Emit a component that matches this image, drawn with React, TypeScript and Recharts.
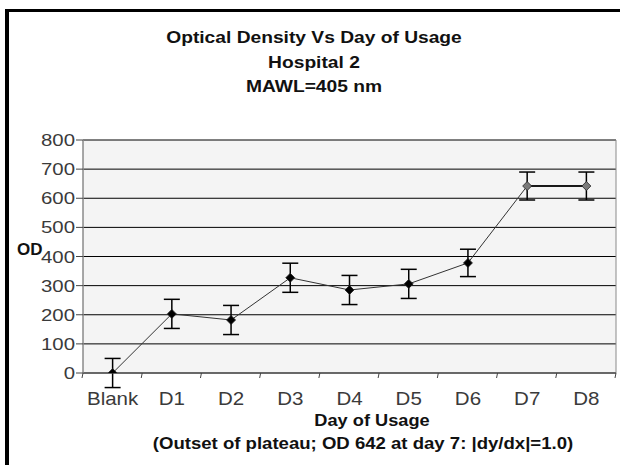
import React from "react";
import { LineChart, Line, XAxis, YAxis, CartesianGrid, ErrorBar } from "recharts";

const days = ["Blank", "D1", "D2", "D3", "D4", "D5", "D6", "D7", "D8"];
const odValues = [0, 203, 182, 327, 285, 306, 378, 642, 642];
const odErrors = [50, 50, 50, 50, 50, 50, 47, 48, 48];
const yTicks = [0, 100, 200, 300, 400, 500, 600, 700, 800];
const plateauFrom = "D7";

const titleLines = ["Optical Density Vs Day of Usage", "Hospital 2", "MAWL=405 nm"];
const xTitle = "Day of Usage";
const xNote = "(Outset of plateau; OD 642 at day 7: |dy/dx|=1.0)";

const plateauIdx = days.indexOf(plateauFrom);

const data = days.map((day, i) => ({
  day,
  od: odValues[i],
  err: odErrors[i],
  plateau: i >= plateauIdx ? odValues[i] : null,
}));

const font = "'Liberation Sans', Arial, sans-serif";

// diamond marker, grey once the plateau starts
function Diamond(props: any) {
  const { cx, cy, index } = props;
  if (cx == null || cy == null) return null;
  const r = 4.5;
  const fill = index >= plateauIdx ? "#7a7a7a" : "#000";
  return (
    <path
      key={`d-${index}`}
      d={`M${cx},${cy - r}L${cx + r},${cy}L${cx},${cy + r}L${cx - r},${cy}Z`}
      fill={fill}
      stroke="#222"
      strokeWidth={0.8}
    />
  );
}

// category label in the band, tick marks on the band edges (Excel style)
function DayTick(props: any) {
  const { x, y, payload, index } = props;
  const half = payload.offset || 29.6;
  const last = index === days.length - 1;
  return (
    <g>
      <line x1={x - half} y1={y - 8} x2={x - half - 1} y2={y - 3} stroke="#444" />
      {last && <line x1={x + half} y1={y - 8} x2={x + half - 1} y2={y - 3} stroke="#444" />}
      <text
        transform={`translate(${x},${y + 24}) scale(1.14,1)`}
        textAnchor="middle"
        fill="#3a3a3a"
        fontSize={18}
        fontFamily={font}
      >
        {payload.value}
      </text>
    </g>
  );
}

function OdTick(props: any) {
  const { x, y, payload } = props;
  return (
    <text
      transform={`translate(${x},${y + 6}) scale(1.2,1)`}
      textAnchor="end"
      fill="#3a3a3a"
      fontSize={17}
      fontFamily={font}
    >
      {payload.value}
    </text>
  );
}

function TextLine({ text, cx, cy, size, scale = 1 }: { text: string; cx: number; cy: number; size: number; scale?: number }) {
  return (
    <div
      style={{
        position: "absolute",
        left: cx - 310,
        top: cy - 12,
        width: 620,
        height: 24,
        lineHeight: "24px",
        textAlign: "center",
        fontFamily: font,
        fontWeight: "bold",
        fontSize: size,
        color: "#111",
        whiteSpace: "nowrap",
        transform: `scaleX(${scale})`,
      }}
    >
      {text}
    </div>
  );
}

export default function App() {
  return (
    <div style={{ position: "absolute", left: 0, top: 0, width: 620, height: 465, overflow: "hidden", background: "#fff" }}>
      {/* outer frame, cut off at right and bottom */}
      <div
        style={{
          position: "absolute",
          left: 5,
          top: 9,
          width: 640,
          height: 480,
          borderLeft: "4px solid #000",
          borderTop: "3px solid #000",
        }}
      />

      <LineChart
        width={620}
        height={465}
        data={data}
        margin={{ top: 140, right: 4, bottom: 62, left: 23 }}
        style={{ position: "absolute", left: 0, top: 0 }}
      >
        <CartesianGrid vertical={false} stroke="#000" fill="#f4f4f4" strokeOpacity={1} />
        <CartesianGrid
          horizontal={false}
          stroke="#8a8a8a"
          verticalCoordinatesGenerator={({ offset }: any) => [offset.left, offset.left + offset.width]}
        />
        <XAxis
          dataKey="day"
          scale="band"
          height={30}
          axisLine={{ stroke: "#555" }}
          tickLine={false}
          interval={0}
          tick={<DayTick />}
        />
        <YAxis
          width={60}
          domain={[0, 800]}
          allowDataOverflow
          ticks={yTicks}
          interval={0}
          axisLine={{ stroke: "#8a8a8a" }}
          tickLine={{ stroke: "#444" }}
          tickSize={7}
          tickMargin={1}
          tick={<OdTick />}
        />
        <Line
          dataKey="plateau"
          stroke="#000"
          strokeWidth={2}
          dot={false}
          isAnimationActive={false}
        />
        <Line
          dataKey="od"
          type="linear"
          stroke="#333"
          strokeWidth={1}
          dot={<Diamond />}
          activeDot={false}
          isAnimationActive={false}
        >
          <ErrorBar dataKey="err" width={8} stroke="#000" strokeWidth={1.5} direction="y" />
        </Line>
      </LineChart>

      {/* y axis title */}
      <div
        style={{
          position: "absolute",
          left: 17,
          top: 240,
          fontFamily: font,
          fontWeight: "bold",
          fontSize: 17,
          color: "#111",
        }}
      >
        OD
      </div>

      {titleLines.map((t, i) => (
        <TextLine key={t} text={t} cx={314} cy={38 + i * 24.5} size={16} scale={1.2} />
      ))}
      <TextLine text={xTitle} cx={372} cy={421} size={17} scale={1.07} />
      <TextLine text={xNote} cx={363} cy={444} size={16} scale={1.16} />
    </div>
  );
}
